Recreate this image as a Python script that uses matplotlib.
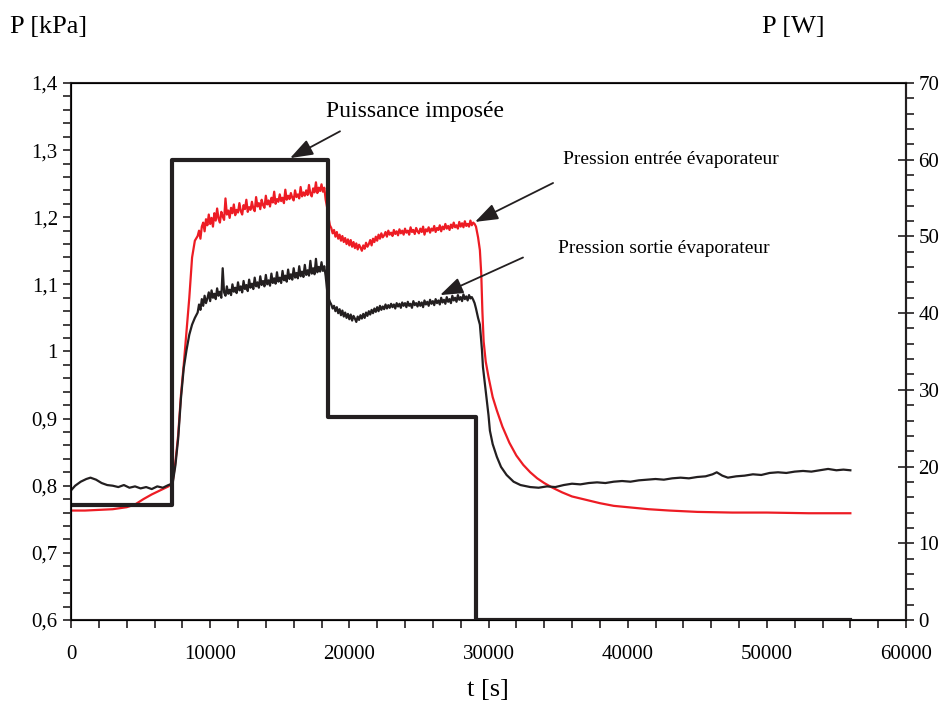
import matplotlib.pyplot as plt
from matplotlib.ticker import MultipleLocator

plt.rcParams['font.family'] = ['Liberation Serif', 'DejaVu Serif']

# pression entree evaporateur (rouge)
t_in_a = [0, 1000, 2000, 3000, 4000, 4600, 5200, 5800, 6400, 7000, 7300,
          7500, 7700, 7900, 8100, 8300, 8500, 8700, 8900]
p_in_a = [0.763, 0.763, 0.764, 0.765, 0.768, 0.772, 0.780, 0.787, 0.793, 0.799, 0.805,
          0.835, 0.875, 0.935, 0.980, 1.030, 1.080, 1.140, 1.165]
t_in_b = list(range(9100, 18400, 100))
p_in_b = [1.172, 1.180, 1.168, 1.186, 1.192, 1.179, 1.197, 1.188, 1.204,
          1.190, 1.199, 1.186, 1.206, 1.195, 1.213, 1.198, 1.192, 1.208, 1.201,
          1.196, 1.228, 1.204, 1.210, 1.199, 1.214, 1.206, 1.219, 1.203, 1.211,
          1.207, 1.221, 1.209, 1.204, 1.218, 1.212, 1.226, 1.208, 1.215, 1.211,
          1.223, 1.213, 1.209, 1.230, 1.216, 1.221, 1.212, 1.226, 1.218, 1.214,
          1.232, 1.219, 1.225, 1.216, 1.229, 1.222, 1.238, 1.220, 1.227, 1.223,
          1.234, 1.224, 1.229, 1.221, 1.241, 1.226, 1.232, 1.227, 1.236, 1.229,
          1.225, 1.240, 1.230, 1.234, 1.228, 1.245, 1.231, 1.237, 1.232, 1.240,
          1.233, 1.248, 1.235, 1.231, 1.243, 1.237, 1.252, 1.236, 1.244, 1.239,
          1.249, 1.238, 1.244, 1.226]
t_in_c = [18400, 18500, 18600]
p_in_c = [1.215, 1.200, 1.188]
t_in_d = list(range(18700, 29200, 100))
p_in_d = [1.184, 1.176, 1.181,
          1.171, 1.178, 1.168, 1.174, 1.165, 1.172, 1.163, 1.169, 1.160, 1.167,
          1.158, 1.166, 1.156, 1.163, 1.154, 1.161, 1.152, 1.159, 1.155, 1.150,
          1.158, 1.153, 1.162, 1.156, 1.160, 1.166, 1.158, 1.168, 1.163, 1.171,
          1.165, 1.174, 1.168, 1.176, 1.170, 1.173, 1.178, 1.171, 1.180, 1.174,
          1.177, 1.172, 1.181, 1.175, 1.179, 1.173, 1.182, 1.176, 1.180, 1.174,
          1.183, 1.177, 1.180, 1.174, 1.185, 1.178, 1.181, 1.175, 1.184, 1.179,
          1.176, 1.183, 1.178, 1.186, 1.174, 1.182, 1.179, 1.185, 1.177, 1.183,
          1.180, 1.187, 1.178, 1.184, 1.181, 1.188, 1.179, 1.186, 1.182, 1.190,
          1.183, 1.187, 1.181, 1.189, 1.184, 1.192, 1.185, 1.188, 1.183, 1.193,
          1.186, 1.191, 1.185, 1.194, 1.187, 1.190, 1.186, 1.195, 1.188, 1.192,
          1.190, 1.186]
t_in_e = [29250, 29380, 29480, 29560, 29650, 29800, 30000, 30300, 30600, 31000,
          31500, 32000, 32500, 33000, 33500, 34000, 34600, 35300, 36000, 37000,
          38000, 39000, 40000, 41500, 43000, 45000, 47500, 50000, 53000, 56000]
p_in_e = [1.170, 1.151, 1.115, 1.060, 1.015, 0.985, 0.962, 0.932, 0.912, 0.888,
          0.864, 0.845, 0.831, 0.820, 0.811, 0.804, 0.797, 0.790, 0.784, 0.779,
          0.774, 0.770, 0.768, 0.765, 0.763, 0.761, 0.760, 0.760, 0.759, 0.759]

# pression sortie evaporateur (noir)
t_out_a = [0, 300, 700, 1100, 1400, 1800, 2200, 2600, 3000, 3400, 3800, 4200,
           4600, 5000, 5400, 5800, 6200, 6600, 7000, 7300,
           7500, 7700, 7900, 8100, 8300, 8500, 8700, 8900]
p_out_a = [0.793, 0.800, 0.806, 0.810, 0.812, 0.809, 0.804, 0.801, 0.800, 0.798, 0.801, 0.797,
           0.799, 0.796, 0.798, 0.795, 0.799, 0.797, 0.801, 0.803,
           0.830, 0.870, 0.930, 0.975, 1.002, 1.025, 1.040, 1.050]
t_out_b = list(range(9100, 18400, 100))
p_out_b = [1.058, 1.070, 1.062, 1.078, 1.068, 1.083, 1.072, 1.079, 1.088,
           1.075, 1.091, 1.080, 1.086, 1.078, 1.094, 1.083, 1.089, 1.080, 1.124,
           1.088, 1.083, 1.097, 1.086, 1.092, 1.084, 1.100, 1.089, 1.095, 1.087,
           1.103, 1.091, 1.097, 1.088, 1.105, 1.093, 1.099, 1.090, 1.107, 1.095,
           1.101, 1.093, 1.110, 1.097, 1.103, 1.095, 1.112, 1.099, 1.105, 1.097,
           1.114, 1.100, 1.106, 1.098, 1.116, 1.102, 1.109, 1.101, 1.118, 1.104,
           1.110, 1.102, 1.120, 1.106, 1.113, 1.104, 1.122, 1.108, 1.115, 1.107,
           1.124, 1.110, 1.117, 1.109, 1.127, 1.112, 1.119, 1.111, 1.129, 1.114,
           1.121, 1.113, 1.135, 1.116, 1.124, 1.115, 1.138, 1.118, 1.126, 1.119,
           1.133, 1.120, 1.127, 1.112]
t_out_c = [18400, 18500, 18600]
p_out_c = [1.092, 1.080, 1.074]
t_out_d = list(range(18700, 29200, 100))
p_out_d = [1.070, 1.064, 1.068,
           1.060, 1.066, 1.057, 1.063, 1.054, 1.061, 1.052, 1.058, 1.050, 1.056,
           1.048, 1.055, 1.046, 1.053, 1.049, 1.044, 1.052, 1.047, 1.054, 1.049,
           1.056, 1.050, 1.058, 1.053, 1.060, 1.055, 1.062, 1.057, 1.064, 1.059,
           1.066, 1.060, 1.068, 1.062, 1.067, 1.063, 1.070, 1.064, 1.069, 1.065,
           1.071, 1.066, 1.070, 1.064, 1.072, 1.067, 1.071, 1.065, 1.073, 1.068,
           1.072, 1.066, 1.074, 1.068, 1.071, 1.065, 1.075, 1.069, 1.072, 1.067,
           1.074, 1.068, 1.073, 1.066, 1.076, 1.070, 1.074, 1.068, 1.077, 1.071,
           1.075, 1.069, 1.078, 1.072, 1.076, 1.070, 1.080, 1.073, 1.077, 1.071,
           1.081, 1.074, 1.078, 1.072, 1.083, 1.076, 1.080, 1.074, 1.084, 1.077,
           1.081, 1.075, 1.085, 1.078, 1.082, 1.076, 1.084, 1.079, 1.081, 1.077,
           1.072, 1.064]
t_out_e = [29250, 29380, 29530, 29600, 29750, 29870, 30000, 30100, 30300, 30600,
           30900, 31300, 31800, 32300, 33000, 33600, 34200, 34800, 35400, 36000,
           36600, 37200, 37800, 38400, 39000, 39600, 40200, 40800, 41400, 42000,
           42600, 43200, 43800, 44400, 45000, 45600, 46100, 46400, 46800, 47200,
           47800, 48400, 49000, 49600, 50200, 50800, 51400, 52000, 52600, 53200,
           53800, 54400, 55000, 55500, 56000]
p_out_e = [1.050, 1.040, 1.002, 0.977, 0.950, 0.928, 0.905, 0.882, 0.862, 0.843,
           0.828, 0.816, 0.806, 0.801, 0.798, 0.797, 0.799, 0.798, 0.801, 0.803,
           0.802, 0.804, 0.805, 0.804, 0.806, 0.807, 0.806, 0.808, 0.809, 0.810,
           0.809, 0.811, 0.812, 0.811, 0.813, 0.814, 0.817, 0.820, 0.815, 0.812,
           0.814, 0.815, 0.817, 0.816, 0.819, 0.820, 0.819, 0.821, 0.822, 0.821,
           0.823, 0.825, 0.823, 0.824, 0.823]

# puissance imposee [W]
t_pow = [0, 7250, 18500, 29100, 56000]
w_pow = [15, 60, 26.5, 0, 0]

yticks = [0.6, 0.7, 0.8, 0.9, 1.0, 1.1, 1.2, 1.3, 1.4]
ylabels = ['0,6', '0,7', '0,8', '0,9', '1', '1,1', '1,2', '1,3', '1,4']

red = '#ed1c24'
dark = '#231f20'

t_in = t_in_a + t_in_b + t_in_c + t_in_d + t_in_e
p_in = p_in_a + p_in_b + p_in_c + p_in_d + p_in_e
t_out = t_out_a + t_out_b + t_out_c + t_out_d + t_out_e
p_out = p_out_a + p_out_b + p_out_c + p_out_d + p_out_e

fig = plt.figure(figsize=(9.53, 7.14), dpi=100)
ax = fig.add_axes([0.0745, 0.1317, 0.8762, 0.7521])
ax.plot(t_in, p_in, color=red, lw=1.6)
ax.plot(t_out, p_out, color=dark, lw=1.6)
ax.set_xlim(0, 60000)
ax.set_ylim(0.6, 1.4)
ax.set_yticks(yticks)
ax.set_yticklabels(ylabels)
ax.xaxis.set_minor_locator(MultipleLocator(2000))
ax.yaxis.set_minor_locator(MultipleLocator(0.02))
ax.tick_params(which='both', direction='out', labelsize=15, width=1.2, color=dark, length=6)
ax.tick_params(axis='x', pad=12)
for s in ax.spines.values():
    s.set_linewidth(1.5)
    s.set_color(dark)

ax2 = ax.twinx()
ax2.plot(t_pow, w_pow, color=dark, lw=3, drawstyle='steps-post')
ax2.set_ylim(0, 70)
ax2.yaxis.set_major_locator(MultipleLocator(10))
ax2.yaxis.set_minor_locator(MultipleLocator(2))
ax2.tick_params(which='major', direction='inout', length=11, width=1.2, labelsize=15, color=dark)
ax2.tick_params(which='minor', direction='out', length=6, width=1.2, color=dark)
ax2.spines['right'].set_linewidth(1.5)
ax2.spines['right'].set_color(dark)

fig.text(0.011, 0.962, 'P [kPa]', fontsize=19, va='center', ha='left')
fig.text(0.80, 0.962, 'P [W]', fontsize=19, va='center', ha='left')
fig.text(0.512, 0.033, 't [s]', fontsize=19, va='center', ha='center')

ax.text(24720, 1.357, 'Puissance imposée', fontsize=17, ha='center', va='center')
ax.text(43120, 1.286, 'Pression entrée évaporateur', fontsize=14, ha='center', va='center')
ax.text(42610, 1.153, 'Pression sortie évaporateur', fontsize=14, ha='center', va='center')

arrow = dict(arrowstyle='-|>,head_length=1.4,head_width=0.5', color=dark, lw=1.3,
             shrinkA=0, shrinkB=0)
ax2.annotate('', xy=(15740, 60.2), xytext=(19330, 63.7), arrowprops=arrow)
ax.annotate('', xy=(29030, 1.193), xytext=(34640, 1.251), arrowprops=arrow)
ax.annotate('', xy=(26520, 1.084), xytext=(32480, 1.140), arrowprops=arrow)

fig.savefig('out.png', dpi=100)
